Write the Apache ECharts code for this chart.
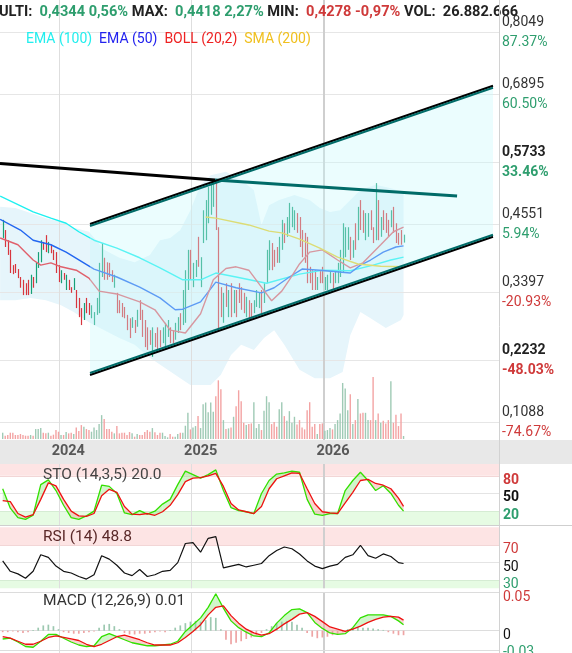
<!DOCTYPE html>
<html><head><meta charset="utf-8">
<script src="https://cdn.jsdelivr.net/npm/echarts@6/dist/echarts.min.js"></script>
<style>html,body{margin:0;padding:0;background:#fff}#c{width:572px;height:653px}</style>
</head><body><div id="c"></div>
<script>
// ---------------- DATA ----------------
const highs = [0.468,0.450,0.432,0.415,0.388,0.390,0.381,0.367,0.362,0.356,
0.362,0.371,0.367,0.392,0.411,0.432,0.429,0.441,0.429,0.424,
0.415,0.411,0.388,0.379,0.374,0.371,0.362,0.349,0.365,0.344,
0.330,0.312,0.321,0.330,0.321,0.317,0.305,0.330,0.392,0.427,
0.401,0.393,0.392,0.379,0.371,0.339,0.326,0.321,0.314,0.300,
0.294,0.296,0.291,0.309,0.326,0.309,0.291,0.278,0.273,0.278,
0.268,0.278,0.273,0.278,0.286,0.291,0.278,0.273,0.286,0.296,
0.303,0.344,0.379,0.415,0.415,0.392,0.397,0.438,0.402,0.485,
0.503,0.526,0.533,0.538,0.538,0.455,0.349,0.339,0.356,0.344,
0.356,0.344,0.344,0.356,0.349,0.339,0.332,0.326,0.321,0.326,
0.344,0.340,0.344,0.356,0.415,0.432,0.427,0.415,0.420,0.438,
0.468,0.462,0.473,0.498,0.491,0.485,0.480,0.473,0.450,0.445,
0.438,0.385,0.379,0.379,0.367,0.379,0.385,0.367,0.371,0.379,
0.374,0.379,0.392,0.415,0.462,0.455,0.455,0.438,0.432,0.462,
0.491,0.503,0.485,0.480,0.480,0.485,0.455,0.533,0.503,0.473,
0.485,0.480,0.468,0.485,0.491,0.462,0.445,0.450,0.4418];
const lows = [0.436,0.420,0.406,0.374,0.372,0.374,0.365,0.348,0.335,0.335,
0.335,0.337,0.348,0.356,0.383,0.393,0.415,0.411,0.409,0.409,
0.397,0.374,0.358,0.356,0.362,0.344,0.344,0.339,0.344,0.312,
0.296,0.282,0.291,0.303,0.300,0.294,0.282,0.300,0.303,0.367,
0.362,0.362,0.367,0.358,0.348,0.303,0.303,0.296,0.294,0.273,
0.259,0.277,0.268,0.279,0.291,0.261,0.243,0.238,0.247,0.226,
0.243,0.238,0.243,0.250,0.243,0.261,0.250,0.250,0.256,0.268,
0.273,0.282,0.286,0.344,0.362,0.349,0.367,0.385,0.349,0.427,
0.432,0.462,0.477,0.491,0.450,0.273,0.296,0.286,0.314,0.296,
0.296,0.303,0.296,0.321,0.309,0.303,0.296,0.291,0.291,0.303,
0.314,0.312,0.303,0.321,0.356,0.379,0.379,0.385,0.392,0.392,
0.415,0.427,0.438,0.445,0.455,0.450,0.445,0.420,0.402,0.392,
0.356,0.356,0.344,0.344,0.344,0.356,0.356,0.344,0.344,0.356,
0.344,0.356,0.356,0.367,0.374,0.402,0.415,0.397,0.401,0.415,
0.432,0.450,0.445,0.432,0.438,0.450,0.427,0.432,0.432,0.438,
0.450,0.445,0.438,0.455,0.445,0.427,0.424,0.424,0.4278];
const ups = [1,0,0,0,0,0,0,0,0,0, 0,1,0,1,1,1,0,0,1,0, 0,0,0,1,0,1,0,0,1,0,
0,0,1,0,0,1,1,1,1,1, 0,0,0,0,1,0,0,0,0,0, 0,1,0,1,0,0,0,0,0,1,
0,0,0,1,1,1,0,0,1,1, 0,1,1,1,0,1,1,0,1,1, 1,1,1,1,0,0,0,1,0,1,
0,1,0,0,0,0,1,0,0,1, 1,1,0,1,1,1,0,0,0,1, 1,0,1,1,1,1,0,0,0,0,
0,0,0,0,1,0,0,1,1,1, 0,1,1,1,1,1,1,0,1,0, 1,0,0,1,1,0,0,1,0,1,
0,0,0,1,0,0,0,0,1];
const volumes = [57,30,36,57,57,36,36,45,36,30, 30,36,30,90,90,99,57,51,57,30,
39,81,66,36,36,63,51,57,45,105, 72,126,111,90,81,66,105,81,135,216,
180,90,90,66,51,117,51,57,57,36, 63,51,21,45,36,36,63,81,66,99, 60,
36,57,57,27,15,45,21,21,45,57, 57,120,237,87,105,117,207,99,315,330,
243,330,246,387,531,450,171,90,96,105, 201,297,441,342,147,126,135,141,333,99,
135,81,255,387,333,135,153,111,270,333, 207,165,252,147,201,132,171,105,87,261,
333,111,135,45,135,141,75,81,99,87, 135,171,231,507,456,261,405,135,171,363,
231,237,237,171,171,561,171,231,147,165, 141,171,522,147,219,117,231,27];

const ema100 = [[-1,0.510],[12,0.482],[19,0.471],[25,0.462],[30,0.447],[36,0.432],[45,0.418],[54,0.401],[62,0.383],[71,0.362],[78,0.362],[84,0.374],[92,0.367],[104,0.356],[117,0.372],[126,0.379],[137,0.378],[146,0.388],[153,0.397],[158,0.402]];
const ema50 = [[-1,0.469],[7,0.450],[12,0.432],[19,0.424],[25,0.411],[36,0.381],[45,0.367],[54,0.349],[62,0.330],[68,0.309],[71,0.310],[78,0.323],[84,0.358],[92,0.348],[102,0.339],[107,0.348],[113,0.367],[118,0.381],[125,0.379],[137,0.374],[141,0.388],[145,0.397],[150,0.411],[155,0.420],[158,0.422]];
const bollMid = [[-1,0.436],[6,0.424],[12,0.397],[15,0.388],[19,0.392],[23,0.385],[29,0.379],[34,0.365],[38,0.342],[45,0.337],[54,0.323],[60,0.309],[66,0.273],[72,0.268],[78,0.302],[83,0.362],[88,0.382],[92,0.385],[97,0.379],[102,0.349],[106,0.325],[110,0.342],[113,0.362],[117,0.390],[121,0.411],[126,0.415],[132,0.397],[137,0.383],[142,0.392],[149,0.424],[154,0.447],[158,0.455]];
const sma200 = [[80,0.473],[84,0.471],[97,0.459],[105,0.448],[110,0.445],[117,0.434],[125,0.418],[132,0.402],[140,0.390],[149,0.386],[158,0.385]];
const bollUpper = [[-1,0.491],[5,0.489],[11,0.480],[17,0.471],[23,0.464],[28,0.454],[34,0.447],[40,0.415],[46,0.401],[52,0.393],[58,0.406],[62,0.432],[66,0.436],[70,0.450],[74,0.485],[78,0.530],[82,0.547],[88,0.553],[94,0.538],[99,0.521],[102,0.459],[105,0.494],[109,0.503],[115,0.512],[121,0.503],[125,0.489],[129,0.482],[133,0.485],[137,0.503],[141,0.521],[147,0.530],[153,0.524],[158,0.517]];
const bollLower = [[-1,0.326],[5,0.326],[11,0.330],[17,0.326],[23,0.317],[28,0.305],[34,0.287],[40,0.273],[46,0.259],[52,0.247],[58,0.224],[64,0.206],[70,0.188],[74,0.176],[78,0.176],[82,0.176],[86,0.194],[90,0.229],[94,0.247],[99,0.238],[103,0.259],[107,0.273],[111,0.247],[117,0.203],[123,0.188],[129,0.188],[134,0.199],[137,0.264],[141,0.305],[145,0.294],[151,0.277],[157,0.291],[158,0.300]];

// trend lines (bar index, price)
const channelUpper = [[34.41,0.4571],[193.26,0.7015]];
const channelLower = [[34.41,0.1972],[193.26,0.4416]];
const resistBlack = [[-1.06,0.5675],[83.7,0.5385]];
const resistTeal = [[83.7,0.5385],[179.1,0.5102]];

// oscillators
const oscIdx = [0,3,6,9,12,15,18,21,24,27,30,33,36,39,42,45,48,51,54,57,60,63,66,69,72,75,78,81,84,87,90,93,96,99,102,105,108,111,114,117,120,123,126,129,132,135,138,141,144,147,150,153,156,158];
const stoK = [58,25,9,6,13,65,73,55,30,9,6,12,20,64,62,50,17,14,21,15,20,32,40,65,88,82,76,82,90,55,26,21,19,16,50,72,83,85,88,86,40,15,13,16,16,55,72,86,72,55,63,50,30,20];
const stoD = [38,36,16,10,14,40,68,63,40,20,12,11,16,46,57,52,28,15,14,16,13,19,30,48,70,76,77,80,84,62,33,22,19,16,28,58,75,80,85,84,58,33,19,17,16,34,52,72,74,67,64,58,42,28];
const rsi = [52,40,37,32,40,59,56,46,40,38,34,31,36,58,54,47,38,35,42,34,36,40,41,50,72,73,62,78,80,44,46,48,45,47,49,58,64,68,66,60,52,46,43,46,48,56,59,70,58,55,60,57,50,49];
const macdLine = [-0.011,-0.010,-0.015,-0.021,-0.022,-0.014,-0.005,-0.005,-0.010,-0.015,-0.019,-0.021,-0.020,-0.008,-0.004,-0.008,-0.012,-0.016,-0.018,-0.020,-0.020,-0.019,-0.018,-0.014,-0.001,0.008,0.017,0.031,0.049,0.030,0.013,0.004,-0.002,-0.007,-0.008,-0.003,0.010,0.020,0.028,0.029,0.024,0.011,0.003,-0.003,-0.005,-0.004,0.004,0.017,0.021,0.021,0.021,0.019,0.013,0.008];
const macdSignal = [-0.008,-0.010,-0.014,-0.018,-0.018,-0.014,-0.009,-0.007,-0.009,-0.011,-0.013,-0.018,-0.021,-0.018,-0.013,-0.008,-0.006,-0.009,-0.012,-0.016,-0.019,-0.019,-0.019,-0.016,-0.009,-0.001,0.008,0.021,0.031,0.033,0.020,0.010,0.002,-0.003,-0.006,-0.004,0.002,0.009,0.015,0.022,0.024,0.019,0.012,0.005,0.002,-0.001,0.002,0.006,0.011,0.015,0.018,0.019,0.018,0.014];
const histIdx = Array.from({length:80},(_,k)=>k*2);
const macdHist = [-0.002,-0.002,-0.001,-0.002,-0.003,-0.002,0.001,0.004,0.007,0.008,
0.006,0.002,-0.002,-0.003,-0.004,-0.004,-0.003,-0.002,-0.001,0.004,
0.008,0.009,0.006,0.002,-0.003,-0.005,-0.005,-0.004,-0.004,-0.003,
-0.002,-0.001,-0.002,0.001,0.004,0.007,0.010,0.012,0.013,0.012,
0.014,0.018,0.017,0.002,-0.012,-0.018,-0.016,-0.014,-0.011,-0.009,
-0.006,-0.003,0.002,0.006,0.010,0.012,0.013,0.012,0.008,0.004,
-0.003,-0.008,-0.010,-0.009,-0.008,-0.006,-0.005,-0.002,0.002,0.004,
0.005,0.004,0.004,0.003,0.002,0.001,-0.002,-0.004,-0.006,-0.006];

// axes labels / ticks
const priceTicks = [0.8049,0.6895,0.5733,0.4551,0.3397,0.2232,0.1088];
const priceTickLabels = ['0,8049','0,6895','0,5733','0,4551','0,3397','0,2232','0,1088'];
const pctTickLabels = ['87.37%','60.50%','33.46%','5.94%','-20.93%','-48.03%','-74.67%'];
const boldTicks = [0,0,1,0,0,1,0];
const yearLabels = ['2024','2025','2026'];
const yearPos = [22.31,74.5,126.65];
const macdTicks = [0.05,0,-0.027], macdTickLabels = ['0.05','0','-0.03'];
const header = {last:'0,4344', lastPct:'0,56%', max:'0,4418', maxPct:'2,27%', min:'0,4278', minPct:'-0,97%', vol:'26.882.666'};

// ---------------- CHART ----------------
const XMIN = -1.06, XMAX = 195.62, W = 499;
const GREEN = '#2e9e6e', RED = '#cf3a3a';
const chart = echarts.init(document.getElementById('c'), null, {renderer:'canvas'});

function xa(i){ return {type:'value', gridIndex:i, min:XMIN, max:XMAX, show:false}; }
function ya(i,min,max){ return {type:'value', gridIndex:i, min, max, show:false}; }
function yearLines(){ return yearPos.map((p,k)=>({xAxis:p, label:{show:false}, lineStyle:{color:k===2?'#cfcfcf':'#dedede', width:k===2?2:1, type:'solid'}})); }
function tickLine(v, text, color, bold, lineColor){
  return {yAxis:v, lineStyle:{color:lineColor||'#e4e4e4', width:1, type:'solid'},
    label:{show:true, position:'end', distance:4, lineHeight:9, formatter:'\n'+text,
      color, fontSize:14, fontWeight:bold?'bold':'normal', fontFamily:'Roboto'}};
}
function fillSeries(xi, a, b, upC, dnC){
  const data = oscIdx.slice(0,-1).map((x,k)=>[x, a[k], oscIdx[k+1], a[k+1], b[k], b[k+1]]);
  return {type:'custom', xAxisIndex:xi, yAxisIndex:xi, z:2, silent:true, clip:true, data,
    renderItem(params, api){
      const x0=api.value(0), x1=api.value(2);
      const p1=api.coord([x0,api.value(1)]), p2=api.coord([x1,api.value(3)]);
      const p3=api.coord([x1,api.value(5)]), p4=api.coord([x0,api.value(4)]);
      const above = api.value(1)+api.value(3) >= api.value(4)+api.value(5);
      return {type:'polygon', shape:{points:[p1,p2,p3,p4]}, style:{fill: above?upC:dnC}};
    }};
}
function lineS(xi, data, color, width, z){
  return {type:'line', xAxisIndex:xi, yAxisIndex:xi, data, showSymbol:false, silent:true, z:z||4,
    lineStyle:{color, width:width||1.3}, emphasis:{disabled:true}};
}
const zip = (a)=>oscIdx.map((x,k)=>[x,a[k]]);

const priceRich = {
  v:{color:'#333', fontSize:14, lineHeight:20, fontFamily:'Roboto'},
  vb:{color:'#222', fontSize:14, lineHeight:20, fontWeight:'bold', fontFamily:'Roboto'},
  p:{color:GREEN, fontSize:14, lineHeight:20, fontFamily:'Roboto'},
  pn:{color:RED, fontSize:14, lineHeight:20, fontFamily:'Roboto'},
  pb:{color:GREEN, fontSize:14, lineHeight:20, fontWeight:'bold', fontFamily:'Roboto'},
  pbn:{color:RED, fontSize:14, lineHeight:20, fontWeight:'bold', fontFamily:'Roboto'}
};
const priceLines = priceTicks.map((v,k)=>{
  const b = boldTicks[k], neg = pctTickLabels[k].startsWith('-');
  return {yAxis:v, lineStyle:{color:'#e6e6e6', width:1, type:'solid'},
    label:{show:true, position:'end', distance:3, rich:priceRich,
      formatter:'{'+(b?'vb':'v')+'|'+priceTickLabels[k]+'}\n{'+(b?'pb':'p')+(neg?'n':'')+'|'+pctTickLabels[k]+'}'}};
});

const series = [];
series.push({type:'line', xAxisIndex:0, yAxisIndex:0, data:[], silent:true, z:2,
  markLine:{silent:true, z:2, symbol:['none','none'], animation:false, data: priceLines.concat(yearLines())}});
series.push({type:'custom', xAxisIndex:0, yAxisIndex:0, z:1, silent:true, clip:true, data:[[0,0]],
  renderItem(params, api){
    const pts = bollUpper.map(p=>api.coord(p)).concat(bollLower.slice().reverse().map(p=>api.coord(p)));
    return {type:'polygon', shape:{points:pts}, style:{fill:'#e6f5fb'}};
  }});
series.push({type:'custom', xAxisIndex:0, yAxisIndex:0, z:3, silent:true, clip:true,
  data: highs.map((h,i)=>[i, lows[i], h, ups[i]]),
  renderItem(params, api){
    const i=api.value(0), lo=api.coord([i,api.value(1)]), hi=api.coord([i,api.value(2)]);
    const x = Math.round(lo[0])+0.5;
    return {type:'line', shape:{x1:x,y1:lo[1],x2:x,y2:hi[1]}, style:{stroke: api.value(3)?'#17a077':'#d8363e', lineWidth:1.2}};
  }});
series.push(lineS(0, ema100, '#1ef0f0', 1.4));
series.push(lineS(0, ema50, '#2266f0', 1.4));
series.push(lineS(0, bollMid, '#e0606c', 1.4));
series.push(lineS(0, sma200, '#e8cc2a', 1.4));
series.push({type:'custom', xAxisIndex:0, yAxisIndex:0, z:6, silent:true, clip:true, data:[[0,0]],
  renderItem(params, api){
    const pts = [api.coord(channelUpper[0]), api.coord(channelUpper[1]), api.coord(channelLower[1]), api.coord(channelLower[0])];
    return {type:'polygon', shape:{points:pts}, style:{fill:'rgba(200,250,252,0.36)'}};
  }});
series.push(lineS(0, resistBlack, '#000000', 3, 7));
series.push(lineS(0, resistTeal, '#006b68', 3, 7));
const up = lineS(0, channelUpper, '#006b68', 2, 8); up.lineStyle.shadowColor='#000'; up.lineStyle.shadowOffsetY=-2; up.lineStyle.shadowBlur=0;
const lo = lineS(0, channelLower, '#006b68', 2, 8); lo.lineStyle.shadowColor='#000'; lo.lineStyle.shadowOffsetY=2; lo.lineStyle.shadowBlur=0;
series.push(up, lo);
series.push({type:'bar', xAxisIndex:1, yAxisIndex:1, barWidth:1.4, silent:true, z:3,
  data: volumes.map((v,i)=>({value:[i,v], itemStyle:{color: ups[i]?'#9fcab5':'#f3a3a3'}}))});
series.push({type:'scatter', xAxisIndex:2, yAxisIndex:2, symbolSize:1, itemStyle:{color:'rgba(0,0,0,0)'}, silent:true,
  data: yearPos.map(p=>[p,0]),
  label:{show:true, position:'inside', offset:[9,-1], formatter:(p)=>yearLabels[p.dataIndex], color:'#333', fontSize:14.5, fontWeight:'bold', fontFamily:'Roboto'}});
// STO
series.push({type:'line', xAxisIndex:3, yAxisIndex:3, data:[], silent:true,
  markArea:{silent:true, z:1, data:[[{yAxis:80, itemStyle:{color:'#fde4e4'}},{yAxis:100}],[{yAxis:-4, itemStyle:{color:'#e6fbe3'}},{yAxis:20}]]},
  markLine:{silent:true, z:2, symbol:['none','none'], animation:false,
    data:[tickLine(80,'80',RED,true,'#f2d6d6'), tickLine(50,'50','#111',true), tickLine(20,'20',GREEN,true,'#d5ecd3')].concat(yearLines())}});
series.push(fillSeries(3, stoK, stoD, 'rgba(150,235,140,0.45)', 'rgba(240,160,150,0.45)'));
series.push(lineS(3, zip(stoK), '#33e000', 1.3, 3));
series.push(lineS(3, zip(stoD), '#ee1111', 1.3, 4));
// RSI
series.push({type:'line', xAxisIndex:4, yAxisIndex:4, data:[], silent:true,
  markArea:{silent:true, z:1, data:[[{yAxis:70, itemStyle:{color:'#fde4e4'}},{yAxis:100}],[{yAxis:0, itemStyle:{color:'#e6fbe3'}},{yAxis:30}]]},
  markLine:{silent:true, z:2, symbol:['none','none'], animation:false,
    data:[tickLine(70,'70',RED,false,'#f2d6d6'), tickLine(50,'50','#111',false), tickLine(30,'30',GREEN,false,'#d5ecd3')].concat(yearLines())}});
series.push(lineS(4, zip(rsi), '#111111', 1.2, 3));
// MACD
series.push({type:'line', xAxisIndex:5, yAxisIndex:5, data:[], silent:true,
  markLine:{silent:true, z:2, symbol:['none','none'], animation:false,
    data:[tickLine(macdTicks[0],macdTickLabels[0],RED,false,'rgba(0,0,0,0)'), tickLine(macdTicks[1],macdTickLabels[1],'#111',false,'#dddddd')].concat(yearLines())}});
series.push({type:'bar', xAxisIndex:5, yAxisIndex:5, barWidth:1.7, silent:true, z:2,
  data: histIdx.map((x,k)=>({value:[x, macdHist[k]], itemStyle:{color: macdHist[k]>=0?'#9cc8b0':'#eea4a4'}}))});
series.push(fillSeries(5, macdLine, macdSignal, 'rgba(150,235,140,0.45)', 'rgba(240,160,150,0.45)'));
series.push(lineS(5, zip(macdLine), '#33e000', 1.3, 3));
series.push(lineS(5, zip(macdSignal), '#ee1111', 1.3, 4));

const T = (text, left, top, size, color, rich, weight) => ({text, left, top, padding:0,
  textStyle:{fontFamily:'Roboto', fontSize:size, color, fontWeight:weight||'normal', rich:rich||{}}});
const hb = {fontFamily:'Roboto', fontSize:14.6, fontWeight:'bold'};
const headerText = '{k|ULTI:}  {g|'+header.last+'} {g|'+header.lastPct+'} {k|MAX:}  {g|'+header.max+'} {g|'+header.maxPct+'} {k|MIN:}  {r|'+header.min+'} {r|'+header.minPct+'} {k|VOL:}  {k|'+header.vol+'}';
const lr = {fontFamily:'Roboto', fontSize:14};

const frame = [
  {type:'rect', id:'band', z:-10, silent:true, shape:{x:0,y:440,width:572,height:24}, style:{fill:'#e8e8e8'}},
  {type:'line', id:'sepV', z:50, silent:true, shape:{x1:499.5,y1:0,x2:499.5,y2:653}, style:{stroke:'#d2d2d2', lineWidth:1}},
  {type:'line', id:'sepH1', z:50, silent:true, shape:{x1:0,y1:525.5,x2:572,y2:525.5}, style:{stroke:'#cfcfcf', lineWidth:1}},
  {type:'line', id:'sepH2', z:50, silent:true, shape:{x1:0,y1:592.5,x2:499,y2:592.5}, style:{stroke:'#dcdcdc', lineWidth:1}}
];

chart.setOption({
  animation:false,
  grid:[
    {left:0, top:0, width:W, height:440},
    {left:0, top:377, width:W, height:62},
    {left:0, top:440, width:W, height:24},
    {left:0, top:464, width:W, height:61.3},
    {left:0, top:527.3, width:W, height:61},
    {left:0, top:593, width:W, height:60}
  ],
  xAxis:[xa(0),xa(1),xa(2),xa(3),xa(4),xa(5)],
  yAxis:[ya(0,0.0788,0.8567), ya(1,0,561), ya(2,-1,1), ya(3,-4,100), ya(4,20.4,90.7), ya(5,-0.0296,0.05)],
  graphic: frame,
  title:[
    T(headerText, -1, 4.5, 14.6, '#222', {k:Object.assign({color:'#222'},hb), g:Object.assign({color:GREEN},hb), r:Object.assign({color:RED},hb)}, 'bold'),
    T('{c|EMA (100)}  {b|EMA (50)}  {r|BOLL (20,2)}  {y|SMA (200)}', 26, 32.5, 14, '#333',
      {c:Object.assign({color:'#22eeee'},lr), b:Object.assign({color:'#2222ee'},lr), r:Object.assign({color:'#ee2222'},lr), y:Object.assign({color:'#f0c020'},lr)}),
    T('STO (14,3,5) 20.0', 43, 467.3, 15.5, '#444'),
    T('RSI (14) 48.8', 43, 529, 15.5, '#5a2828'),
    T('MACD (12,26,9) 0.01', 43, 593, 15.5, '#333')
  ],
  series
});

// lowest MACD tick sits on the panel's bottom edge: place its gridline and label from the axis scale
const yLow = chart.convertToPixel({xAxisIndex:5, yAxisIndex:5}, [0, macdTicks[2]])[1];
chart.setOption({graphic: frame.concat([
  {type:'line', id:'macdLowLine', z:3, silent:true, shape:{x1:0, y1:Math.round(yLow)-0.5, x2:W, y2:Math.round(yLow)-0.5}, style:{stroke:'#dddddd', lineWidth:1}},
  {type:'text', id:'macdLowLabel', z:50, silent:true, x:503, y:yLow+1, style:{text:macdTickLabels[2], fill:GREEN, font:'14px Roboto', textVerticalAlign:'middle', verticalAlign:'middle'}}
])});
</script></body></html>
